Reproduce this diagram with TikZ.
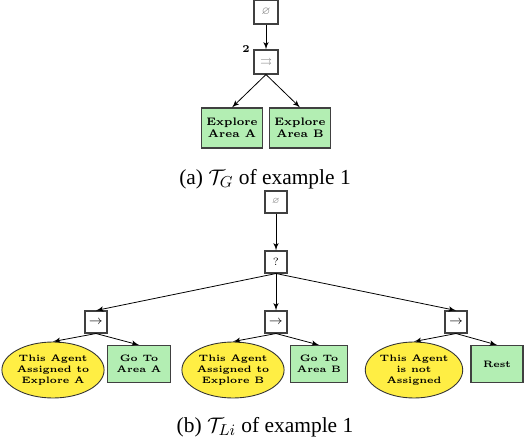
\documentclass[tikz,border=0pt]{standalone}
\usepackage{amsmath,amssymb}
\usepackage{fontspec}
\usetikzlibrary{shapes,arrows}
\newfontfamily\capfont{Liberation Serif}
\definecolor{action}{HTML}{B3EEB3}
\definecolor{condition}{HTML}{FFEE44}

\begin{document}
\begin{tikzpicture}[x=0.02cm,y=-0.02cm,
        ctrl/.style={draw=black!75, line width=0.6pt, fill=white, minimum size=0.44cm, inner sep=0pt},
        act/.style={draw=black!75, line width=0.6pt, fill=action, align=center, inner sep=1pt, minimum height=0.74cm},
        cond/.style={ellipse, draw=black!80, line width=0.5pt, fill=condition, align=center, minimum width=1.94cm, minimum height=1.12cm, inner sep=0pt},
        edge/.style={-latex', line width=0.45pt},
        caption/.style={font=\capfont\fontsize{12.2}{14}\selectfont}]
        \useasboundingbox (0,0) rectangle (524,442);

        \def\Tx{266 } % first tree centre
        \def\Bx{276 } % second tree centre
        \def\Sx{180 } % sequence spacing

        % First tree
        \node[ctrl, minimum size=0.48cm] (rootA) at (\Tx, 12) {\fontsize{6}{7}\selectfont\textcolor{gray}{$\varnothing$}};
        \node[ctrl, minimum size=0.48cm] (par)   at (\Tx, 62) {\fontsize{6}{7}\selectfont\textcolor{gray}{$\rightrightarrows$}};
        \node[font=\fontsize{6}{7}\selectfont\bfseries] (parnum) at (\Tx-20, 49) {2};
        \node[act, minimum width=1.22cm, minimum height=0.8cm, font=\fontsize{6.2}{7}\selectfont\bfseries] (expA) at (232, 128) {Explore\\Area A};
        \node[act, minimum width=1.22cm, minimum height=0.8cm, font=\fontsize{6.2}{7}\selectfont\bfseries] (expB) at (300, 128) {Explore\\Area B};

        \draw[edge] (rootA) -- (par);
        \draw[edge] (par.south) -- (expA.north);
        \draw[edge] (par.south) -- (expB.north);

        \node[caption] (capA) at (265, 179) {(a) $\mathcal{T}_G$ of example 1};

        % Second tree
        \node[ctrl] (rootB) at (\Bx, 202) {\fontsize{4.5}{5}\selectfont\textcolor{gray}{$\varnothing$}};
        \node[ctrl] (sel)   at (\Bx, 262) {\fontsize{6}{7}\selectfont ?};
        \node[ctrl] (seqA)  at (\Bx-\Sx, 322) {\fontsize{7}{8}\selectfont$\rightarrow$};
        \node[ctrl] (seqB)  at (\Bx,     322) {\fontsize{7}{8}\selectfont$\rightarrow$};
        \node[ctrl] (seqC)  at (\Bx+\Sx, 322) {\fontsize{7}{8}\selectfont$\rightarrow$};

        \begin{scope}[font=\fontsize{5.3}{6.3}\selectfont\bfseries]
        \node[cond] (condA) at ( 53, 370) {This Agent\\Assigned to\\Explore A};
        \node[act, minimum width=1.26cm] (goA) at (139, 364) {Go To\\Area A};
        \node[cond] (condB) at (233, 370) {This Agent\\Assigned to\\Explore B};
        \node[act, minimum width=1.14cm] (goB) at (319, 364) {Go To\\Area B};
        \node[cond] (condC) at (414, 370) {This Agent\\is not\\Assigned};
        \node[act, minimum width=1.04cm] (rest) at (497, 364) {Rest};
        \end{scope}

        \draw[edge] (rootB) -- (sel);
        \draw[edge] (sel.south) -- (seqA.north);
        \draw[edge] (sel.south) -- (seqB.north);
        \draw[edge] (sel.south) -- (seqC.north);
        \draw[edge] (seqA.south) -- (condA.north);
        \draw[edge] (seqA.south) -- (goA.north);
        \draw[edge] (seqB.south) -- (condB.north);
        \draw[edge] (seqB.south) -- (goB.north);
        \draw[edge] (seqC.south) -- (condC.north);
        \draw[edge] (seqC.south) -- (rest.north);

        \node[caption] (capB) at (265, 427) {(b) $\mathcal{T}_{Li}$ of example 1};
\end{tikzpicture}
\end{document}
